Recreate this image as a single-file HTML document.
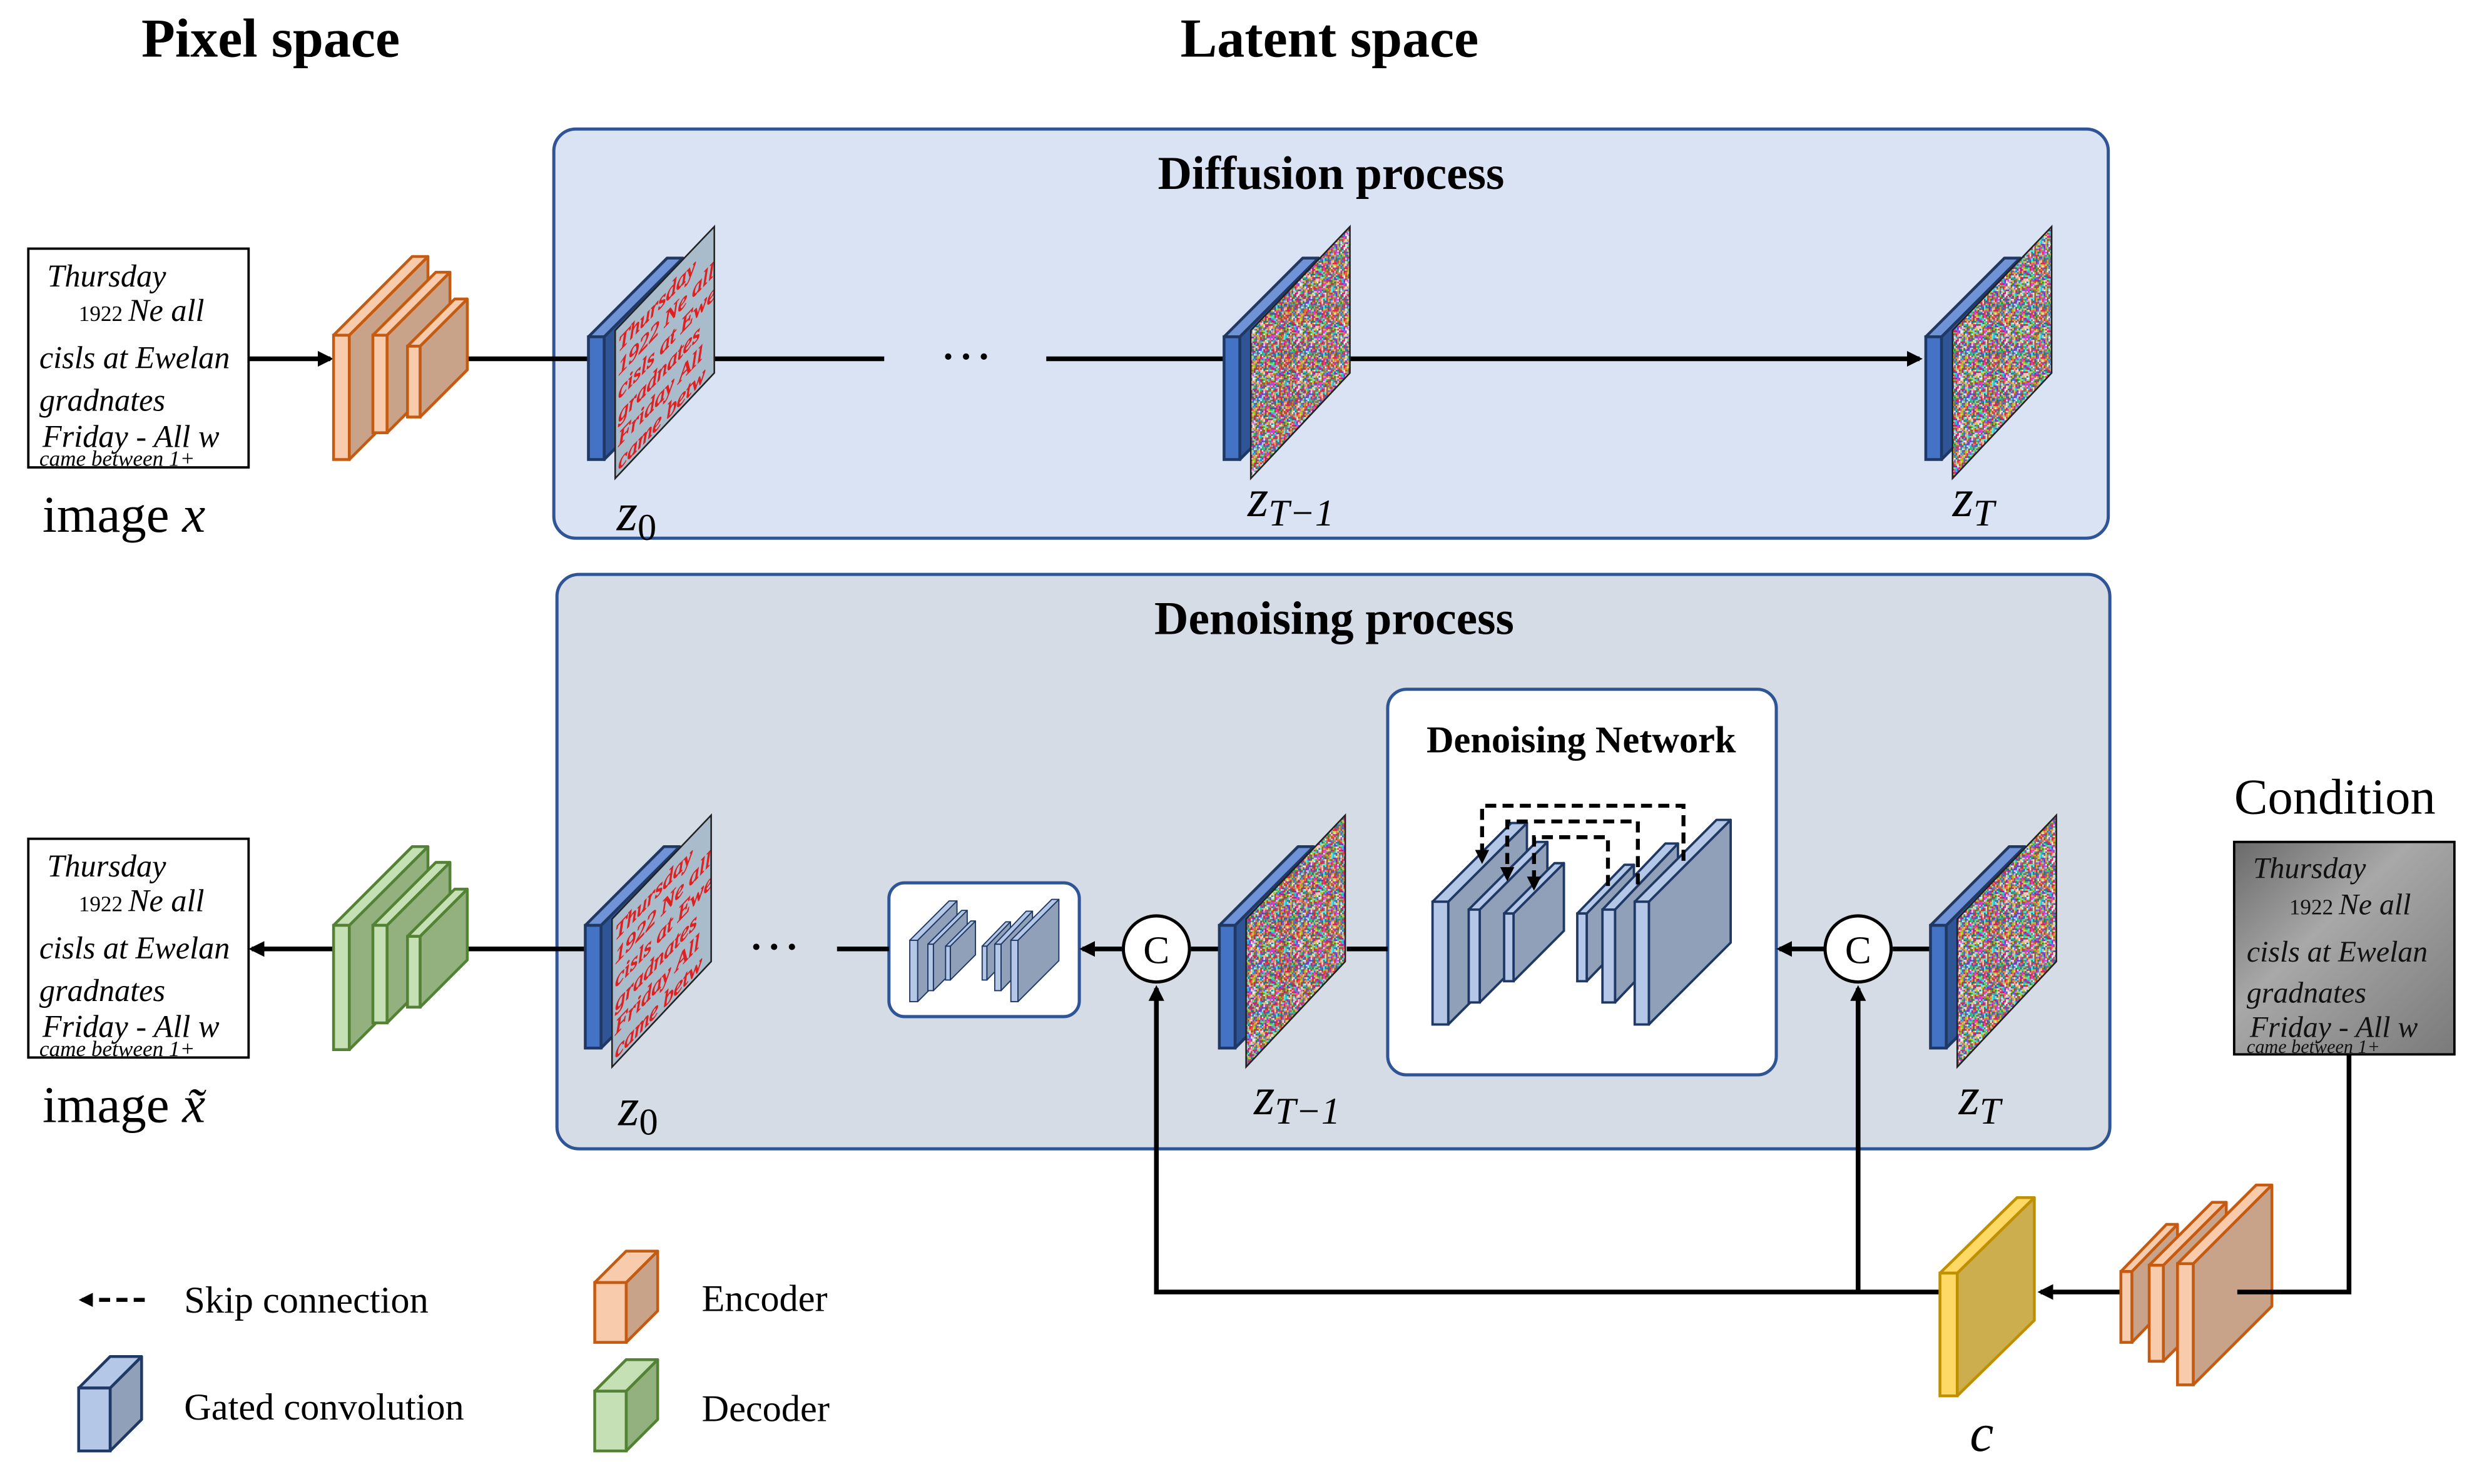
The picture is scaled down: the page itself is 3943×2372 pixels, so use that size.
<!DOCTYPE html>
<html><head><meta charset="utf-8"><style>
html,body{margin:0;padding:0;background:#fff;}
svg{display:block;}
text{font-family:"Liberation Serif",serif;}
</style></head><body>
<svg id="s" width="3943" height="2372" viewBox="0 0 1568 943" preserveAspectRatio="none" xmlns="http://www.w3.org/2000/svg">
<defs id="defs">
<marker id="ah" markerWidth="10" markerHeight="10" refX="8" refY="5" orient="auto" markerUnits="userSpaceOnUse"><path d="M0,0 L10,5 L0,10 z" fill="#000"/></marker>
<marker id="ah2" markerWidth="9" markerHeight="9" refX="7" refY="4.5" orient="auto" markerUnits="userSpaceOnUse"><path d="M0,0 L9,4.5 L0,9 z" fill="#000"/></marker>
<pattern id="noise" patternUnits="userSpaceOnUse" width="30" height="30"><g id="ng"></g></pattern>
<linearGradient id="cg" x1="0" y1="0" x2="1" y2="1"><stop offset="0" stop-color="#6a6a6a"/><stop offset="0.4" stop-color="#a8a8a8"/><stop offset="1" stop-color="#7a7a7a"/></linearGradient>
</defs>
<rect width="1568" height="943" fill="#fff"/>
<text x="172" y="36" font-size="35" font-weight="bold" text-anchor="middle">Pixel space</text>
<text x="845" y="36" font-size="35" font-weight="bold" text-anchor="middle">Latent space</text>

<rect x="352" y="82" width="988" height="260" rx="14" fill="#dae3f3" stroke="#2f5597" stroke-width="2"/>
<text x="846" y="120" font-size="30" font-weight="bold" text-anchor="middle">Diffusion process</text>
<rect x="354" y="365" width="987" height="365" rx="14" fill="#d6dce5" stroke="#2f5597" stroke-width="2"/>
<text x="848" y="403" font-size="30" font-weight="bold" text-anchor="middle">Denoising process</text>
<rect x="882" y="438" width="247" height="245" rx="12" fill="#fff" stroke="#2f5597" stroke-width="2"/>
<text x="1005" y="478" font-size="24" font-weight="bold" text-anchor="middle">Denoising Network</text>
<rect x="565" y="561" width="121" height="85" rx="10" fill="#fff" stroke="#2f5597" stroke-width="2"/>

<g>
<rect x="18" y="158" width="140" height="139" fill="#fff" stroke="#000" stroke-width="1.5"/>
<g font-style="italic" font-size="20" fill="#000">
<text x="30" y="182">Thursday</text><text x="50" y="204" font-style="normal" font-size="14">1922 <tspan font-style="italic" font-size="20">Ne all</tspan></text>
<text x="25" y="234">cisls at Ewelan</text><text x="25" y="261">gradnates</text>
<text x="27" y="284">Friday - All w</text><text x="25" y="296" font-size="14">came  between 1+</text></g>
</g>
<g transform="translate(0,375)">
<rect x="18" y="158" width="140" height="139" fill="#fff" stroke="#000" stroke-width="1.5"/>
<g font-style="italic" font-size="20" fill="#000">
<text x="30" y="182">Thursday</text><text x="50" y="204" font-style="normal" font-size="14">1922 <tspan font-style="italic" font-size="20">Ne all</tspan></text>
<text x="25" y="234">cisls at Ewelan</text><text x="25" y="261">gradnates</text>
<text x="27" y="284">Friday - All w</text><text x="25" y="296" font-size="14">came  between 1+</text></g>
</g>
<g>
<rect x="1420" y="535" width="140" height="135" fill="url(#cg)" stroke="#000" stroke-width="1.5"/>
<g font-style="italic" font-size="19" fill="#111">
<text x="1432" y="558">Thursday</text><text x="1455" y="581" font-style="normal" font-size="14">1922 <tspan font-style="italic" font-size="19">Ne all</tspan></text>
<text x="1428" y="611">cisls at Ewelan</text><text x="1428" y="637">gradnates</text>
<text x="1430" y="659">Friday - All w</text><text x="1428" y="669" font-size="12">came  between 1+</text></g>
</g>
<text x="27" y="338" font-size="33">image <tspan font-style="italic">x</tspan></text>
<text x="27" y="713" font-size="33">image <tspan font-style="italic">x̃</tspan></text>
<text x="1420" y="517" font-size="32">Condition</text>

<g stroke="#000" stroke-width="3" fill="none">
<line x1="158" y1="228" x2="210" y2="228" marker-end="url(#ah)"/>
<line x1="286" y1="228" x2="374" y2="228"/>
<line x1="454" y1="228" x2="562" y2="228"/>
<line x1="665" y1="228" x2="778" y2="228"/>
<line x1="856" y1="228" x2="1220" y2="228" marker-end="url(#ah)"/>
<line x1="286" y1="603" x2="372" y2="603"/>
<line x1="212" y1="603" x2="160" y2="603" marker-end="url(#ah)"/>
<line x1="532" y1="603" x2="565" y2="603"/>
<line x1="713" y1="603" x2="688" y2="603" marker-end="url(#ah)"/>
<line x1="757" y1="603" x2="776" y2="603"/>
<line x1="856" y1="603" x2="882" y2="603"/>
<line x1="1160" y1="603" x2="1131" y2="603" marker-end="url(#ah)"/>
<line x1="1203" y1="603" x2="1228" y2="603"/>
<polyline points="1233,821 735,821 735,628" marker-end="url(#ah)"/>
<line x1="1181" y1="821" x2="1181" y2="628" marker-end="url(#ah)"/>
<line x1="1350" y1="821" x2="1297" y2="821" marker-end="url(#ah)"/>
</g>
<text x="614" y="238" font-size="34" text-anchor="middle">···</text>
<text x="492" y="613" font-size="34" text-anchor="middle">···</text>

<g id="shapes"></g>

<g stroke="#000" stroke-width="3" fill="none">
<polyline points="1493,670 1493,821 1422,821"/>
</g>
<circle cx="735" cy="603" r="21" fill="#fff" stroke="#000" stroke-width="2"/>
<text x="735" y="612" font-size="25" text-anchor="middle">C</text>
<circle cx="1181" cy="603" r="21" fill="#fff" stroke="#000" stroke-width="2"/>
<text x="1181" y="612" font-size="25" text-anchor="middle">C</text>

<g stroke="#000" stroke-width="2.5" fill="none" stroke-dasharray="7,4">
<polyline points="1070,547 1070,512 942,512 942,547" marker-end="url(#ah2)"/>
<polyline points="1041,562 1041,522 958,522 958,558" marker-end="url(#ah2)"/>
<polyline points="1022,563 1022,532 975,532 975,564" marker-end="url(#ah2)"/>
</g>

<g font-style="italic" font-size="34">
<text x="392" y="337">z<tspan font-size="24" dy="6" font-style="normal">0</tspan></text>
<text x="793" y="328">z<tspan font-size="24" dy="6">T−1</tspan></text>
<text x="1241" y="328">z<tspan font-size="24" dy="6">T</tspan></text>
<text x="393" y="715">z<tspan font-size="24" dy="6" font-style="normal">0</tspan></text>
<text x="797" y="708">z<tspan font-size="24" dy="6">T−1</tspan></text>
<text x="1245" y="708">z<tspan font-size="24" dy="6">T</tspan></text>
<text x="1252" y="922">c</text>
</g>

<line x1="92" y1="826" x2="52" y2="826" stroke="#000" stroke-width="2.5" stroke-dasharray="7,4" marker-end="url(#ah2)"/>
<g font-size="24">
<text x="117" y="834">Skip connection</text>
<text x="117" y="902">Gated convolution</text>
<text x="446" y="833">Encoder</text>
<text x="446" y="903">Decoder</text>
</g>
</svg>
<script>
var NS="http://www.w3.org/2000/svg";
var sh=document.getElementById("shapes");
var defs=document.getElementById("defs");
function el(t,a,p){var e=document.createElementNS(NS,t);for(var k in a)e.setAttribute(k,a[k]);(p||sh).appendChild(e);return e;}
function P(pts){return pts.map(function(p){return p[0]+","+p[1]}).join(" ");}
function cube(x,y,w,h,dx,dy,fr,tp,sd,st,sw,par){
 sw=sw||1.5;
 el("polygon",{points:P([[x+w,y],[x+w+dx,y-dy],[x+w+dx,y+h-dy],[x+w,y+h]]),fill:sd,stroke:st,"stroke-width":sw,"stroke-linejoin":"round"},par);
 el("polygon",{points:P([[x,y],[x+dx,y-dy],[x+w+dx,y-dy],[x+w,y]]),fill:tp,stroke:st,"stroke-width":sw,"stroke-linejoin":"round"},par);
 el("rect",{x:x,y:y,width:w,height:h,fill:fr,stroke:st,"stroke-width":sw},par);
}
var ng=document.getElementById("ng");
var cols=["#e0245a","#1fc7d8","#3cb44b","#f58231","#4363d8","#f032e6","#c8d040","#911eb4","#46f0f0","#9ad60c","#fabebe","#008080","#e6194b","#eeeeee","#9a6324","#7060d0"];
var seed=7;function rnd(){seed=(seed*16807)%2147483647;return seed/2147483647;}
for(var i=0;i<30;i++)for(var j=0;j<30;j++)el("rect",{x:i,y:j,width:1.05,height:1.05,fill:cols[Math.floor(rnd()*cols.length)]},ng);

var cid=0;
function latent(sx,sy,kind){
 cube(sx,sy,10,78,50,50,"#4472c4","#6f93d6","#2f5597","#1f3864",1.8);
 var pts=P([[sx+17,sy-4],[sx+80,sy-70],[sx+80,sy+23],[sx+17,sy+90]]);
 var lines=["Thursday","1922 Ne all","cisls at Ewe","gradnates","Friday All","came betw"];
 cid++;
 var cp=el("clipPath",{id:"cp"+cid},defs);el("polygon",{points:pts},cp);
 el("polygon",{points:pts,fill:kind==0?"#a9bccb":"url(#noise)"});
 if(kind<2){
  var outer=el("g",{"clip-path":"url(#cp"+cid+")",opacity:kind==0?1:0.45});
  var g=el("g",{transform:"matrix(1,-1.05,0,1,"+(sx+17)+","+(sy-4)+")"},outer);
  for(var k=0;k<lines.length;k++){var t=el("text",{x:2,y:16+k*15,"font-size":13,"font-style":"italic",fill:"#e02020",stroke:"#e02020","stroke-width":kind==0?0.5:0},g);t.textContent=lines[k];}
 }
 el("polygon",{points:pts,fill:"none",stroke:"#222","stroke-width":1});
}
latent(374,214,0);latent(778,214,1);latent(1224,214,2);
latent(372,588,0);latent(775,588,1);latent(1227,588,2);

function enc(oy,fr,sd,st){
 cube(212,213+oy,10,79,50,50,fr,fr,sd,st,1.8);
 cube(237,213+oy,9,62,40,40,fr,fr,sd,st,1.8);
 cube(259,220+oy,8,45,30,30,fr,fr,sd,st,1.8);
}
enc(0,"#f8cbad","#c9a28a","#c55a11");
enc(375,"#c5e0b4","#93b07f","#548235");
cube(1348,808,7,45,29,30,"#f8cbad","#f8cbad","#c9a28a","#c55a11",1.8);
cube(1366,804,9,61,40,40,"#f8cbad","#f8cbad","#c9a28a","#c55a11",1.8);
cube(1384,803,10,77,50,50,"#f8cbad","#f8cbad","#c9a28a","#c55a11",1.8);
cube(1233,809,11,78,49,48,"#ffd966","#ffd966","#ccae4e","#bf9000",1.8);

function net(par){
 var F="#b4c7e7",S="#8fa0b8",K="#1f3864";
 cube(910.5,573,10,78,50,50,F,F,S,K,1.5,par);
 cube(933.5,578,7,59,43,43,F,F,S,K,1.5,par);
 cube(956,580.5,6,43,32,32,F,F,S,K,1.5,par);
 cube(1002.5,580.5,6,43,30,31,F,F,S,K,1.5,par);
 cube(1018.5,578,8,59,40,42,F,F,S,K,1.5,par);
 cube(1039,573,9,78,52,52,F,F,S,K,1.5,par);
}
net(sh);
var mini=el("g",{transform:"translate(123,311) scale(0.5)"});
net(mini);
cube(50,882,20,40,20,20,"#b4c7e7","#b4c7e7","#8fa0b8","#1f3864",1.8);
cube(378,815,20,38,20,20,"#f8cbad","#f8cbad","#c9a28a","#c55a11",1.8);
cube(378,884,20,38,20,20,"#c5e0b4","#c5e0b4","#93b07f","#548235",1.8);
</script>
</body></html>
